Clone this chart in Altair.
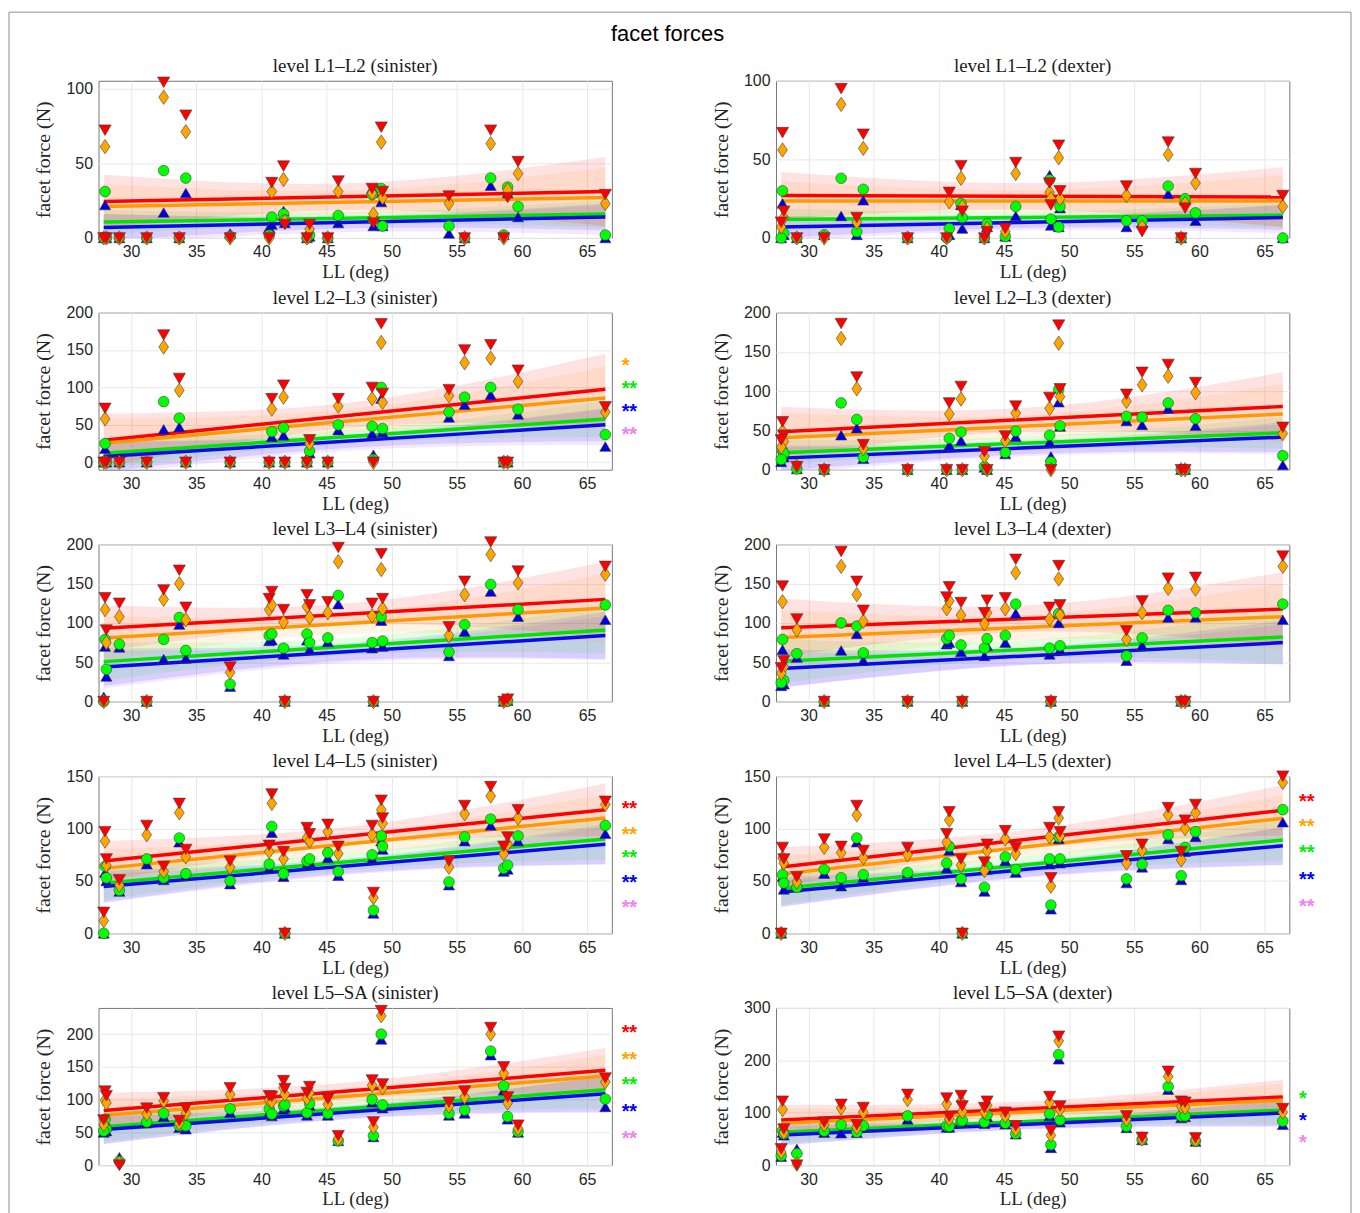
import altair as alt
import pandas as pd

# ---------------- data ----------------
LL = [28.0, 28.1, 27.9, 29.1, 31.2, 32.5, 33.7, 34.2, 37.6, 40.6, 40.8, 41.7, 41.8,
      43.5, 43.7, 45.1, 45.9, 48.5, 48.6, 49.2, 49.3, 54.4, 55.6, 57.6, 58.6, 58.9, 59.7, 66.4]

L1L2_S_RED    = [72, 0, 0, 0, 0, 104, 0, 82, 0, 0, 37, 48, 9, 0, 9, 0, 38, 33, 10, 74, 31, 28, 0, 72, 0, 27, 51, 29]
L1L2_S_ORANGE = [61, 0, 0, 0, 0, 94, 0, 71, 0, 0, 31, 39, 11, 0, 6, 0, 31, 30, 16, 64, 27, 23, 0, 63, 0, 32, 43, 23]
L1L2_S_GREEN  = [31, 0, 0, 0, 0, 45, 0, 40, 1, 2, 14, 16, 12, 0, 2, 0, 15, 29, 12, 33, 8, 8, 0, 40, 2, 34, 21, 2]
L1L2_S_BLUE   = [22, 0, 0, 0, 0, 17, 0, 30, 3, 7, 9, 18, 10, 0, 1, 0, 10, 33, 8, 24, 8, 3, 0, 35, 2, 30, 14, 0]

L1L2_D_RED    = [67, 17, 10, 0, 0, 95, 13, 66, 0, 0, 29, 46, 17, 0, 4, 6, 48, 35, 21, 59, 30, 33, 4, 61, 0, 19, 41, 27]
L1L2_D_ORANGE = [56, 13, 7, 0, 0, 85, 10, 57, 0, 0, 23, 38, 20, 0, 6, 4, 41, 29, 25, 51, 25, 27, 7, 53, 0, 22, 35, 20]
L1L2_D_GREEN  = [30, 3, 0, 0, 2, 38, 4, 31, 0, 0, 6, 22, 13, 0, 9, 1, 20, 37, 12, 7, 20, 11, 11, 33, 0, 25, 16, 0]
L1L2_D_BLUE   = [22, 2, 0, 0, 2, 14, 2, 24, 0, 2, 2, 21, 6, 0, 7, 1, 14, 40, 8, 7, 19, 7, 10, 28, 0, 24, 11, 0]

L2L3_S_RED    = [72, 0, 0, 0, 0, 170, 112, 0, 0, 0, 85, 103, 0, 0, 30, 0, 85, 100, 0, 185, 92, 97, 150, 157, 0, 0, 123, 74]
L2L3_S_ORANGE = [58, 0, 0, 0, 0, 154, 96, 0, 0, 0, 71, 87, 0, 0, 25, 0, 75, 85, 0, 160, 80, 89, 133, 139, 0, 0, 108, 67]
L2L3_S_GREEN  = [25, 0, 0, 0, 0, 81, 59, 0, 0, 0, 41, 46, 0, 0, 15, 0, 50, 48, 4, 100, 45, 67, 87, 100, 0, 0, 71, 37]
L2L3_S_BLUE   = [18, 0, 0, 0, 0, 44, 47, 0, 0, 0, 34, 36, 0, 0, 12, 0, 43, 38, 10, 85, 40, 60, 77, 90, 0, 0, 64, 21]

L2L3_D_RED    = [61, 44, 38, 4, 0, 186, 118, 32, 0, 0, 85, 106, 0, 23, 0, 43, 81, 92, 0, 184, 103, 96, 124, 134, 0, 0, 111, 54]
L2L3_D_ORANGE = [49, 36, 29, 5, 0, 167, 103, 27, 0, 0, 71, 90, 0, 17, 0, 37, 72, 78, 0, 161, 93, 87, 108, 119, 0, 0, 98, 46]
L2L3_D_GREEN  = [24, 21, 13, 1, 0, 85, 64, 16, 0, 0, 40, 48, 0, 4, 0, 22, 49, 44, 10, 102, 56, 68, 67, 85, 0, 0, 65, 18]
L2L3_D_BLUE   = [20, 16, 10, 1, 0, 44, 53, 14, 0, 0, 31, 37, 0, 3, 0, 20, 42, 35, 17, 86, 55, 62, 57, 78, 0, 0, 56, 6]

L3L4_S_RED    = [132, 91, 0, 125, 0, 142, 167, 120, 44, 131, 140, 117, 0, 136, 123, 127, 196, 125, 0, 188, 131, 95, 153, 203, 0, 3, 166, 172]
L3L4_S_ORANGE = [117, 75, 0, 108, 0, 130, 150, 104, 37, 117, 123, 101, 0, 121, 107, 113, 178, 109, 0, 168, 118, 84, 136, 187, 0, 2, 151, 162]
L3L4_S_GREEN  = [79, 41, 0, 73, 0, 79, 107, 65, 22, 84, 86, 68, 0, 86, 75, 81, 135, 75, 0, 108, 77, 63, 98, 149, 0, 1, 117, 123]
L3L4_S_BLUE   = [70, 32, 6, 69, 0, 54, 98, 55, 19, 77, 78, 60, 0, 78, 66, 76, 124, 68, 0, 103, 70, 58, 89, 140, 0, 1, 108, 104]

L3L4_D_RED    = [147, 52, 43, 105, 0, 191, 153, 116, 0, 133, 146, 126, 0, 113, 129, 132, 181, 120, 0, 173, 123, 90, 128, 157, 0, 0, 158, 185]
L3L4_D_ORANGE = [127, 44, 36, 91, 0, 172, 136, 102, 0, 118, 128, 110, 0, 99, 113, 118, 164, 105, 0, 156, 110, 79, 113, 144, 0, 0, 143, 172]
L3L4_D_GREEN  = [79, 27, 24, 61, 0, 100, 96, 62, 0, 80, 84, 72, 0, 68, 80, 84, 124, 68, 0, 112, 71, 58, 81, 116, 0, 0, 113, 124]
L3L4_D_BLUE   = [66, 22, 20, 56, 0, 65, 86, 52, 0, 73, 75, 63, 0, 58, 71, 75, 112, 60, 0, 100, 66, 52, 71, 107, 0, 0, 107, 104]

L4L5_S_RED    = [97, 71, 20, 51, 103, 64, 124, 80, 69, 84, 133, 78, 0, 101, 95, 104, 83, 103, 39, 127, 110, 69, 122, 140, 83, 92, 118, 126]
L4L5_S_ORANGE = [88, 65, 12, 46, 94, 59, 115, 73, 63, 78, 124, 71, 0, 91, 88, 97, 76, 94, 34, 118, 105, 63, 114, 131, 76, 85, 110, 123]
L4L5_S_GREEN  = [64, 53, 0, 41, 71, 53, 91, 57, 50, 66, 102, 57, 0, 69, 71, 77, 59, 75, 22, 93, 83, 49, 92, 109, 62, 65, 93, 103]
L4L5_S_BLUE   = [58, 50, 0, 40, 66, 51, 87, 55, 47, 62, 96, 54, 0, 66, 68, 72, 55, 71, 19, 88, 80, 46, 88, 103, 59, 61, 88, 95]

L4L5_D_RED    = [82, 71, 0, 54, 90, 83, 122, 79, 82, 95, 116, 71, 0, 68, 85, 98, 82, 101, 53, 116, 97, 74, 85, 120, 78, 108, 123, 150]
L4L5_D_ORANGE = [72, 67, 0, 49, 82, 77, 113, 72, 75, 87, 108, 65, 0, 60, 79, 90, 76, 92, 45, 110, 93, 67, 79, 113, 70, 100, 115, 144]
L4L5_D_GREEN  = [56, 48, 0, 44, 61, 53, 91, 56, 58, 67, 83, 52, 0, 44, 64, 73, 61, 71, 27, 92, 71, 52, 66, 94, 55, 82, 97, 118]
L4L5_D_BLUE   = [54, 42, 0, 44, 57, 45, 87, 53, 57, 62, 79, 49, 0, 40, 61, 69, 58, 66, 23, 90, 67, 48, 63, 90, 51, 78, 92, 106]

L5SA_S_RED    = [113, 106, 69, 0, 87, 103, 68, 87, 118, 106, 105, 129, 117, 111, 120, 101, 45, 130, 66, 236, 124, 96, 113, 210, 150, 104, 61, 133]
L5SA_S_ORANGE = [99, 95, 62, 3, 78, 98, 64, 79, 108, 99, 97, 118, 108, 102, 110, 93, 40, 122, 58, 228, 118, 90, 104, 200, 140, 95, 56, 127]
L5SA_S_GREEN  = [70, 55, 52, 6, 66, 79, 60, 60, 86, 86, 78, 90, 92, 80, 94, 79, 37, 100, 45, 200, 92, 79, 84, 174, 121, 74, 51, 101]
L5SA_S_BLUE   = [67, 52, 50, 12, 64, 74, 57, 55, 80, 80, 75, 85, 88, 76, 91, 76, 37, 96, 43, 192, 87, 76, 79, 168, 114, 70, 50, 89]

L5SA_D_RED    = [122, 69, 31, 0, 82, 116, 77, 110, 135, 128, 93, 133, 113, 110, 122, 101, 75, 131, 66, 246, 113, 94, 53, 179, 122, 120, 52, 108]
L5SA_D_ORANGE = [106, 62, 25, 2, 77, 109, 72, 101, 125, 117, 88, 121, 102, 102, 114, 94, 68, 120, 57, 237, 106, 87, 50, 169, 112, 110, 48, 101]
L5SA_D_GREEN  = [66, 60, 18, 22, 65, 77, 63, 75, 94, 75, 74, 84, 85, 82, 96, 80, 60, 98, 39, 211, 86, 74, 49, 150, 94, 94, 46, 84]
L5SA_D_BLUE   = [62, 57, 16, 31, 62, 61, 62, 72, 87, 72, 72, 82, 82, 79, 92, 78, 59, 94, 33, 202, 82, 71, 48, 144, 90, 92, 45, 77]

# regression fits, order: red, orange, green, blue, violet
FIT_SERIES = ["red", "orange", "green", "blue", "violet"]
L1L2_S_FIT_START = [24.3, 21, 10.6, 7, 6]
L1L2_S_FIT_END   = [31, 27, 16, 14, 12]
L1L2_S_CI        = [[18, 9, 23], [15, 8, 20], [8, 4, 9], [9, 4, 9], [10, 5, 10]]
L1L2_D_FIT_START = [27, 23.5, 11.8, 7, 6]
L1L2_D_FIT_END   = [26, 23.5, 14.5, 13, 12]
L1L2_D_CI        = [[15, 8.5, 19], [12.5, 7, 16.5], [7, 3.5, 8], [7, 3.5, 8], [8, 4, 9]]
L2L3_S_FIT_START = [29.5, 25.5, 12, 7.6, 5]
L2L3_S_FIT_END   = [97.5, 86, 57.7, 50, 47]
L2L3_S_CI        = [[35.5, 17, 47.5], [32.5, 16, 42], [20, 9, 24], [20, 9, 22], [22, 10, 24]]
L2L3_D_FIT_START = [48.3, 40.7, 21.6, 14.8, 12]
L2L3_D_FIT_END   = [80.5, 71, 47, 41.5, 39]
L2L3_D_CI        = [[32, 15, 43.5], [32, 14, 38], [16, 8, 20], [16, 8, 19], [17, 8, 19]]
L3L4_S_FIT_START = [93.3, 80.9, 50.8, 43.9, 41]
L3L4_S_FIT_END   = [130, 119, 91, 84, 81]
L3L4_S_CI        = [[29, 14, 48], [28, 13, 44], [24, 11, 30], [24, 11, 30], [24, 11, 28]]
L3L4_D_FIT_START = [94, 81.5, 51.4, 42, 40]
L3L4_D_FIT_END   = [117.6, 108, 82, 75, 73]
L3L4_D_CI        = [[37, 17, 47], [35, 16, 42], [28, 12, 33], [24, 11, 28], [22, 10, 25]]
L4L5_S_FIT_START = [69, 62, 47.9, 44.7, 43]
L4L5_S_FIT_END   = [118, 110, 90, 85, 84]
L4L5_S_CI        = [[19, 9, 25], [18, 9, 23], [16, 8, 20], [15, 7, 19], [14, 7, 18]]
L4L5_D_FIT_START = [63.3, 56.6, 43, 39.5, 38]
L4L5_D_FIT_END   = [117.4, 109.8, 89, 83.5, 83]
L4L5_D_CI        = [[19, 9, 24], [18, 9, 22], [16, 8, 20], [14, 7, 18], [13, 7, 18]]
L5SA_S_FIT_START = [83.4, 76, 58.8, 54.3, 53]
L5SA_S_FIT_END   = [144.7, 136, 115, 109, 108]
L5SA_S_CI        = [[27, 13, 34], [26, 12, 32], [23, 11, 28], [22, 10, 27], [21, 10, 28]]
L5SA_D_FIT_START = [86, 79.7, 62.7, 57.6, 56]
L5SA_D_FIT_END   = [130, 124, 105, 99.4, 98]
L5SA_D_CI        = [[29, 14, 33], [28, 13, 32], [22, 10, 27], [20, 9, 25], [18, 9, 26]]

# significance markers (series, label)
L2L3_S_STARS = [("orange", "*"), ("green", "**"), ("blue", "**"), ("violet", "**")]
L4L5_S_STARS = [("red", "**"), ("orange", "**"), ("green", "**"), ("blue", "**"), ("violet", "**")]
L4L5_D_STARS = [("red", "**"), ("orange", "**"), ("green", "**"), ("blue", "**"), ("violet", "**")]
L5SA_S_STARS = [("red", "**"), ("orange", "**"), ("green", "**"), ("blue", "**"), ("violet", "**")]
L5SA_D_STARS = [("green", "*"), ("blue", "*"), ("violet", "*")]

TITLES = ["level L1–L2 (sinister)", "level L1–L2 (dexter)",
          "level L2–L3 (sinister)", "level L2–L3 (dexter)",
          "level L3–L4 (sinister)", "level L3–L4 (dexter)",
          "level L4–L5 (sinister)", "level L4–L5 (dexter)",
          "level L5–SA (sinister)", "level L5–SA (dexter)"]
MAIN_TITLE = "facet forces"

# ---------------- style / layout ----------------
W, H = 516, 158
XDOM = [27.5, 66.9]
PT_COLOR = {"red": "#ff0000", "orange": "#ffa500", "green": "#00ff00", "blue": "#0000dd"}
PT_SHAPE = {"red": "triangle-down", "orange": "M0,-1L0.68,0L0,1L-0.68,0Z",
            "green": "circle", "blue": "triangle-up"}
PT_SIZE = {"red": 150, "orange": 210, "green": 115, "blue": 125}
LINE_COLOR = {"red": "#ff0000", "orange": "#ff9900", "green": "#00e400", "blue": "#0a0ae6"}
BAND_COLOR = {"red": "#ff0000", "orange": "#ff9900", "green": "#00ee00", "blue": "#0000ff", "violet": "#9b30ff"}
STAR_COLOR = {"red": "#ff0000", "orange": "#ffa500", "green": "#00ee00", "blue": "#0000ff", "violet": "#ee82ee"}

one = pd.DataFrame({"k": [0]})


def build_panel(title, red, orange, green, blue, fstart, fend, ci, ydom, yticks,
                stars=None, star_frac=None, extra=None):
    xs = alt.Scale(domain=XDOM, nice=False, zero=False)
    ys = alt.Scale(domain=ydom, nice=False, zero=False)
    xa = alt.Axis(values=[30, 35, 40, 45, 50, 55, 60, 65], title="LL (deg)", grid=True)
    ya = alt.Axis(values=yticks, title="facet force (N)", grid=True)

    def X(f):
        return alt.X(f, type="quantitative", scale=xs, axis=xa)

    def Y(f):
        return alt.Y(f, type="quantitative", scale=ys, axis=ya)

    x0, x1 = min(LL), max(LL)
    xm = (x0 + x1) / 2
    band_rows, line_rows = [], []
    for i, s in enumerate(FIT_SERIES):
        a, b = fstart[i], fend[i]
        for xv, c, hw in [(x0, a, ci[i][0]), (xm, (a + b) / 2, ci[i][1]), (x1, b, ci[i][2])]:
            band_rows.append({"LL": xv, "lo": c - hw, "hi": c + hw, "s": s, "c": BAND_COLOR[s]})
        if s != "violet":
            line_rows.append({"LL": x0, "F": a, "s": s, "c": LINE_COLOR[s]})
            line_rows.append({"LL": x1, "F": b, "s": s, "c": LINE_COLOR[s]})
    band_df = pd.DataFrame(band_rows[::-1])
    line_df = pd.DataFrame(line_rows)

    layers = []
    layers.append(alt.Chart(band_df).mark_area(interpolate="natural", clip=True, opacity=0.11).encode(
        x=X("LL"), y=Y("lo"), y2="hi:Q",
        color=alt.Color("c:N", scale=None), detail="s:N"))
    layers.append(alt.Chart(line_df).mark_line(clip=True, strokeWidth=3.5).encode(
        x=X("LL"), y=Y("F"), color=alt.Color("c:N", scale=None), detail="s:N"))
    for s, vals in [("blue", blue), ("green", green), ("orange", orange), ("red", red)]:
        df = pd.DataFrame({"LL": LL, "F": vals})
        layers.append(alt.Chart(df).mark_point(
            filled=True, shape=PT_SHAPE[s], size=PT_SIZE[s], color=PT_COLOR[s], opacity=1,
            stroke="#3c3c3c", strokeWidth=0.6).encode(x=X("LL"), y=Y("F")))
    if stars:
        rows = []
        for (s, lab), fr in zip(stars, star_frac):
            rows.append({"LL": XDOM[1] + 0.75, "F": ydom[1] - fr * (ydom[1] - ydom[0]),
                         "t": lab, "c": STAR_COLOR[s]})
        sdf = pd.DataFrame(rows)
        layers.append(alt.Chart(sdf).mark_text(align="left", baseline="middle", fontSize=20,
                                               font="Liberation Sans", fontWeight="bold", dy=5).encode(
            x=X("LL"), y=Y("F"), text="t:N", color=alt.Color("c:N", scale=None)))
    # panel title as a text mark centred over the plot area
    layers.append(alt.Chart(one).mark_text(text=title, font="Liberation Serif", fontSize=19,
                                           color="#1a1a1a", align="center", baseline="alphabetic").encode(
        x=alt.value(W / 2), y=alt.value(-9)))
    if extra:
        layers.extend(extra)
    return alt.layer(*layers).properties(width=W, height=H)


frame = alt.Chart(one).mark_rect(filled=False, stroke="#8f8f8f", strokeWidth=1, fill=None).encode(
    x=alt.value(-90), x2=alt.value(1259), y=alt.value(-69), y2=alt.value(1140))
main_title = alt.Chart(one).mark_text(text=MAIN_TITLE, font="Liberation Sans", fontSize=22,
                                      color="#000000", align="center", baseline="middle").encode(
    x=alt.value(572), y=alt.value(-47))

T100 = [0, 50, 100]
T200 = [0, 50, 100, 150, 200]
T150 = [0, 50, 100, 150]

p1 = build_panel(TITLES[0], L1L2_S_RED, L1L2_S_ORANGE, L1L2_S_GREEN, L1L2_S_BLUE,
                 L1L2_S_FIT_START, L1L2_S_FIT_END, L1L2_S_CI, [0, 105], T100,
                 extra=[frame, main_title])
p2 = build_panel(TITLES[1], L1L2_D_RED, L1L2_D_ORANGE, L1L2_D_GREEN, L1L2_D_BLUE,
                 L1L2_D_FIT_START, L1L2_D_FIT_END, L1L2_D_CI, [0, 100], T100)
p3 = build_panel(TITLES[2], L2L3_S_RED, L2L3_S_ORANGE, L2L3_S_GREEN, L2L3_S_BLUE,
                 L2L3_S_FIT_START, L2L3_S_FIT_END, L2L3_S_CI, [-10, 200], T200,
                 L2L3_S_STARS, [0.31, 0.455, 0.60, 0.75])
p4 = build_panel(TITLES[3], L2L3_D_RED, L2L3_D_ORANGE, L2L3_D_GREEN, L2L3_D_BLUE,
                 L2L3_D_FIT_START, L2L3_D_FIT_END, L2L3_D_CI, [0, 200], T200)
p5 = build_panel(TITLES[4], L3L4_S_RED, L3L4_S_ORANGE, L3L4_S_GREEN, L3L4_S_BLUE,
                 L3L4_S_FIT_START, L3L4_S_FIT_END, L3L4_S_CI, [0, 200], T200)
p6 = build_panel(TITLES[5], L3L4_D_RED, L3L4_D_ORANGE, L3L4_D_GREEN, L3L4_D_BLUE,
                 L3L4_D_FIT_START, L3L4_D_FIT_END, L3L4_D_CI, [0, 200], T200)
p7 = build_panel(TITLES[6], L4L5_S_RED, L4L5_S_ORANGE, L4L5_S_GREEN, L4L5_S_BLUE,
                 L4L5_S_FIT_START, L4L5_S_FIT_END, L4L5_S_CI, [0, 150], T150,
                 L4L5_S_STARS, [0.18, 0.34, 0.49, 0.65, 0.81])
p8 = build_panel(TITLES[7], L4L5_D_RED, L4L5_D_ORANGE, L4L5_D_GREEN, L4L5_D_BLUE,
                 L4L5_D_FIT_START, L4L5_D_FIT_END, L4L5_D_CI, [0, 150], T150,
                 L4L5_D_STARS, [0.13, 0.29, 0.46, 0.63, 0.80])
p9 = build_panel(TITLES[8], L5SA_S_RED, L5SA_S_ORANGE, L5SA_S_GREEN, L5SA_S_BLUE,
                 L5SA_S_FIT_START, L5SA_S_FIT_END, L5SA_S_CI, [0, 240], T200,
                 L5SA_S_STARS, [0.13, 0.30, 0.46, 0.63, 0.80])
p10 = build_panel(TITLES[9], L5SA_D_RED, L5SA_D_ORANGE, L5SA_D_GREEN, L5SA_D_BLUE,
                  L5SA_D_FIT_START, L5SA_D_FIT_END, L5SA_D_CI, [0, 300], [0, 100, 200, 300],
                  L5SA_D_STARS, [0.545, 0.685, 0.825])

chart = alt.concat(p1, p2, p3, p4, p5, p6, p7, p8, p9, p10, columns=2,
                   spacing={"row": 75, "column": 165}, bounds="flush").properties(
    padding={"left": 0, "top": 0, "right": 0, "bottom": 0}
).configure_axis(
    labelFont="Liberation Sans", labelFontSize=16, labelColor="#262626",
    titleFont="Liberation Serif", titleFontSize=19, titleFontWeight="normal", titleColor="#262626",
    gridColor="#e8e8e8", domain=False, ticks=False, labelPadding=6
).configure_axisY(
    minExtent=33, maxExtent=33, titlePadding=12, titleFontSize=20
).configure_axisX(
    titlePadding=3
).configure_view(
    stroke="#777777", strokeWidth=1
)

chart.save("out.html", embed_options={"renderer": "svg", "actions": False})
